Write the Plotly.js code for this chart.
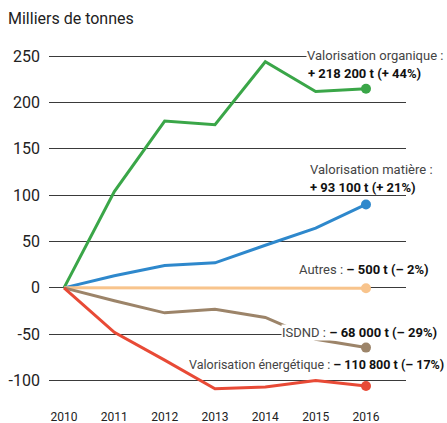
<!DOCTYPE html>
<html><head><meta charset="utf-8">
<script src="https://cdn.plot.ly/plotly-3.0.1.min.js"></script>
<style>html,body{margin:0;padding:0;background:#fff}#c{width:447px;height:423px}</style>
</head><body><div id="c"></div>
<script>
const years = [2010, 2011, 2012, 2013, 2014, 2015, 2016];
const organique = [0, 104, 180, 176, 244, 212, 215];
const matiere = [0, 13, 24, 27, 46, 64.5, 90];
const autres = [0, 0, 0, 0, 0, 0, -0.5];
const isdnd = [0, -14, -27, -23, -32, -55.5, -64.5];
const energetique = [0, -48, -78, -109, -107, -100, -106];
const yTicks = [250, 200, 150, 100, 50, 0, -50, -100];
const seriesNames = ["Valorisation organique", "Valorisation matière", "Autres", "ISDND", "Valorisation énergétique"];
const colors = ["#3aa648", "#2e88cc", "#f8c48c", "#9c8469", "#e84a36"];
const series = [organique, matiere, autres, isdnd, energetique];

const FONT = 'Roboto, "Liberation Sans", sans-serif';
const traces = [];
series.forEach((s, i) => {
  traces.push({x: years, y: s, type: 'scatter', mode: 'lines', name: seriesNames[i],
    line: {color: colors[i], width: 3}, hoverinfo: 'skip'});
  traces.push({x: [years[years.length-1]], y: [s[s.length-1]], type: 'scatter', mode: 'markers',
    marker: {color: colors[i], size: 10}, hoverinfo: 'skip'});
});

const reg = '#444', bold = '#111';
const px = p => (p - 49) / 357;
const ann = (x, y, text, opts) => Object.assign({x: px(x), y, xref: 'paper', yref: 'y', text, showarrow: false,
  xanchor: 'left', yanchor: 'middle', font: {family: FONT, size: 13, color: reg}}, opts || {});
const B = t => '<b style="color:#111">' + t + '</b>';
const annotations = [
  ann(306, 250.5, 'Valorisation organique :', {bgcolor: '#fff', borderpad: 0}),
  ann(306, 231, B('+ 218 200 t (+ 44%)')),
  ann(308, 127.4, 'Valorisation matière :'),
  ann(308, 108, B('+ 93 100 t (+ 21%)')),
  ann(431, 19.4, 'Autres : ' + B('– 500 t (– 2%)'), {xanchor: 'right'}),
  ann(438, -48.6, 'ISDND : ' + B('– 68 000 t (– 29%)'), {xanchor: 'right', bgcolor: '#fff', borderpad: 0}),
  ann(446, -83, 'Valorisation énergétique : ' + B('– 110 800 t (– 17%)'), {xanchor: 'right', font: {family: FONT, size: 12.5, color: reg}})
];

const layout = {
  width: 447, height: 423,
  margin: {l: 49, r: 41, t: 47, b: 24},
  paper_bgcolor: '#fff', plot_bgcolor: '#fff',
  showlegend: false,
  title: {text: 'Milliers de tonnes', x: 8/447, xref: 'container', xanchor: 'left', y: 1 - 18/423, yref: 'container', yanchor: 'middle',
    font: {family: FONT, size: 16, color: '#222'}},
  xaxis: {range: [2009.702, 2016.795], tickvals: years, ticktext: years.map(String),
    showgrid: false, zeroline: false, showline: false, ticks: '',
    ticklabelstandoff: 9,
    tickfont: {family: FONT, size: 12, color: '#222'}, fixedrange: true},
  yaxis: {range: [-120, 260], tickvals: yTicks, ticktext: yTicks.map(String),
    showgrid: true, gridcolor: '#3a3a3a', gridwidth: 1, zeroline: false, showline: false, ticks: '',
    ticklabelstandoff: 8,
    tickfont: {family: FONT, size: 16, color: '#222'}, fixedrange: true},
  annotations
};
Plotly.newPlot('c', traces, layout, {staticPlot: true, displayModeBar: false});
</script></body></html>
